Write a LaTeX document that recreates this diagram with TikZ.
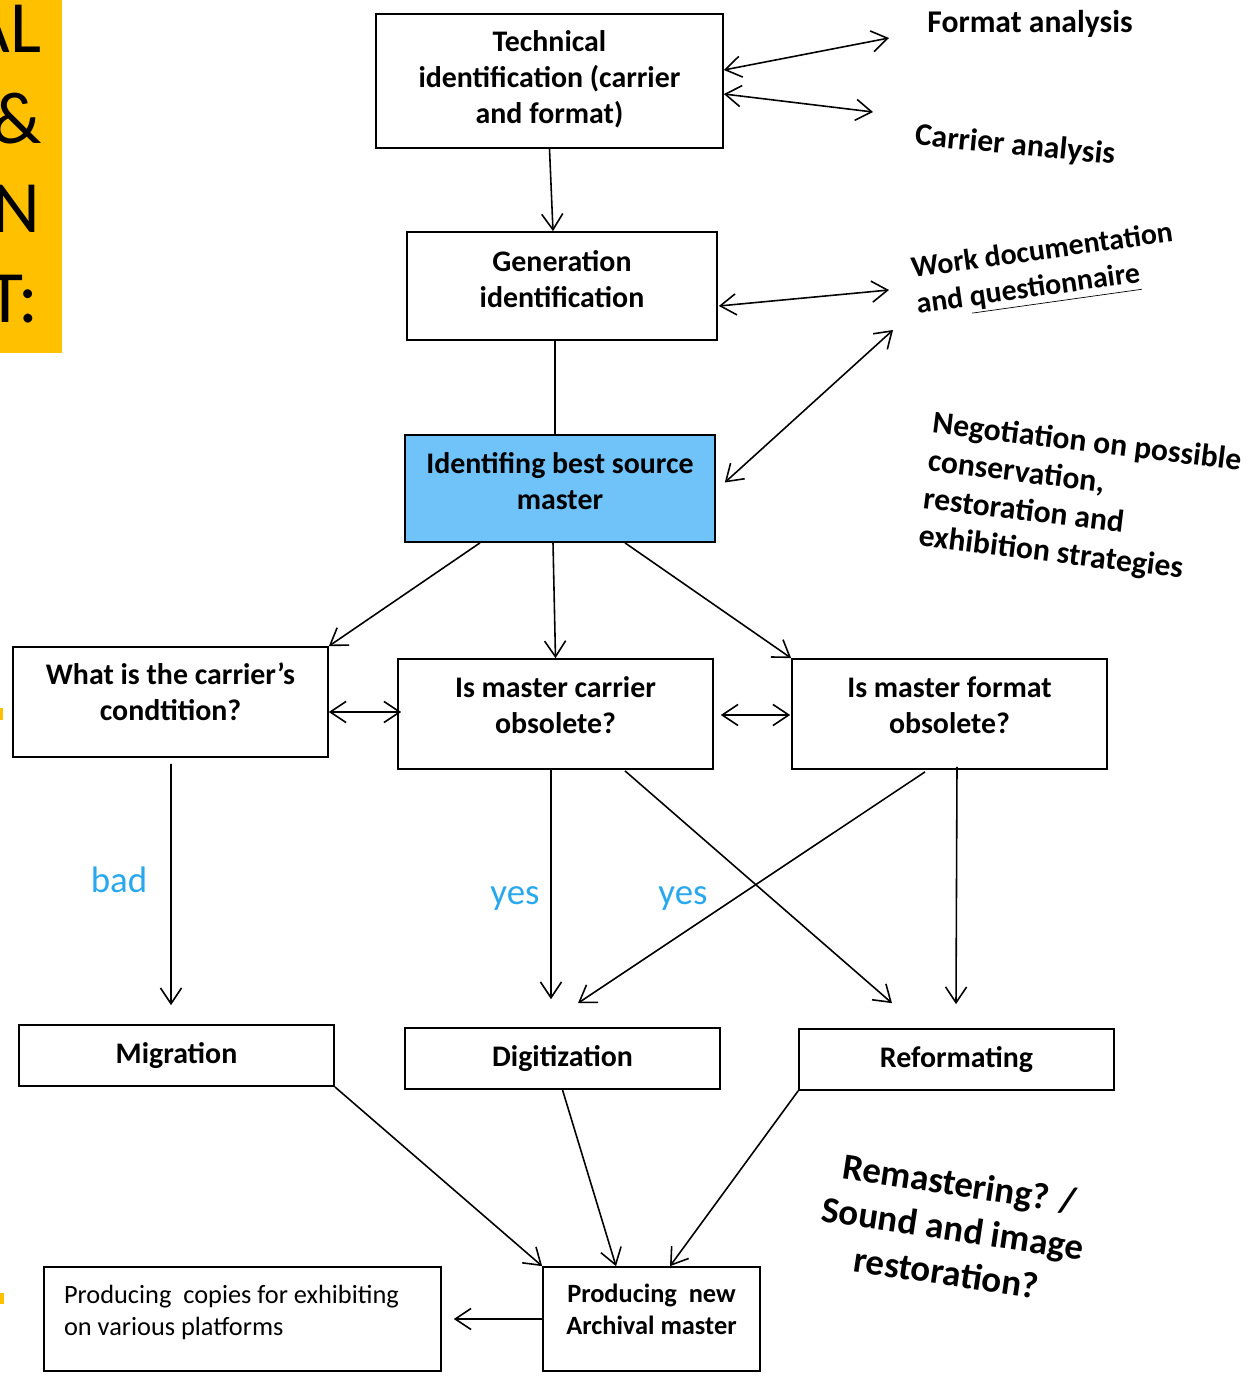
\documentclass[tikz,border=0pt]{standalone}
\usepackage{fontspec}
\setmainfont{Carlito}
\usetikzlibrary{arrows.meta,calc}
\definecolor{masterblue}{RGB}{111,195,248}
\definecolor{answerblue}{RGB}{41,168,238}
\definecolor{bandyellow}{RGB}{255,192,0}
\begin{document}
\begin{tikzpicture}[x=0.02cm,y=-0.02cm,
  box/.style={draw,line width=1pt,inner sep=0pt,align=flush center,
    font=\fontsize{17}{20.5}\selectfont\bfseries},
  lift/.style={execute at end node={\endgraf\vskip#1\hrule height0pt depth0pt width0pt}},
  flow/.style={line width=0.9pt,-{Straight Barb[length=9pt,width=12pt]}},
  twoway/.style={line width=0.9pt,{Straight Barb[length=9pt,width=12pt]}-{Straight Barb[length=9pt,width=12pt]}},
  side/.style={font=\fontsize{18}{21.6}\selectfont\bfseries},
  answer/.style={text=answerblue,font=\fontsize{21}{25}\selectfont}]
\useasboundingbox (0,0) rectangle (1259,1376);
% left band (cut off)
\begin{scope}
\clip (0,0) rectangle (1259,1376);
\fill[bandyellow] (0,0) rectangle (62,353);
\fill[bandyellow] (0,708) rectangle (3,720);
\fill[bandyellow] (0,1293) rectangle (4,1304);
\node[anchor=base east,inner sep=0pt,font=\fontsize{42}{50}\selectfont] (band1) at (42,52) {AL};
\node[anchor=base east,inner sep=0pt,font=\fontsize{42}{50}\selectfont] (band2) at (42,143) {\&};
\node[anchor=base east,inner sep=0pt,font=\fontsize{42}{50}\selectfont] (band3) at (40,232) {N};
\node[anchor=base east,inner sep=0pt,font=\fontsize{42}{50}\selectfont] (band4) at (39,322) {T:};
\end{scope}

% boxes
\node[box,lift=2.3pt,text width=6.94cm,minimum height=2.68cm] (tech) at (549.5,81) {Technical\\identification (carrier\\and format)};
\node[box,lift=8pt,text width=6.2cm,minimum height=2.16cm] (gen) at (562,286) {Generation\\identification};
\node[box,lift=8.5pt,fill=masterblue,text width=6.2cm,minimum height=2.14cm] (best) at (560,488.5) {Identifing best source\\master};
\node[box,lift=11.4pt,text width=6.3cm,minimum height=2.2cm] (cond) at (170.5,702) {What is the carrier’s\\condtition?};
\node[box,lift=10.2pt,text width=6.3cm,minimum height=2.2cm] (mcarrier) at (555.5,714) {Is master carrier\\obsolete?};
\node[box,lift=10.2pt,text width=6.3cm,minimum height=2.2cm] (mformat) at (949.5,714) {Is master format\\obsolete?};
\node[box,text width=6.3cm,minimum height=1.22cm] (migration) at (176.5,1055.5) {Migration};
\node[box,text width=6.3cm,minimum height=1.22cm] (digit) at (562.5,1058.5) {Digitization};
\node[box,text width=6.3cm,minimum height=1.22cm] (reform) at (956.5,1059.5) {Reformating};
\node[box,lift=7.4pt,font=\fontsize{15}{18.2}\selectfont,align=flush left,text width=7.14cm,inner xsep=0.4cm,minimum height=2.08cm] (copies) at (242.5,1319) {Producing\ \ copies for exhibiting\\on various platforms};
\node[box,lift=11.4pt,font=\fontsize{15}{18.2}\selectfont\bfseries,text width=4.34cm,minimum height=2.08cm] (newmaster) at (651.5,1319) {Producing\ \ new\\Archival master};

% texts on the side
\node[side] (fmt) at (1030,24) {Format analysis};
\node[side,rotate=-5.5] (car) at (1015,146) {Carrier analysis};
\node[side,rotate=8,align=left,font=\fontsize{17}{20.5}\selectfont\bfseries] (work) at (1045,271) {Work documentation\\and \underline{questionnaire}};
\node[side,rotate=-7,align=left] (nego) at (1080,500) {Negotiation on possible\\conservation,\\restoration and\\exhibition strategies};
\node[side,rotate=-8.5,align=center,font=\fontsize{21}{25.6}\selectfont\bfseries] (remaster) at (953,1228) {Remastering? /\\Sound and image\\restoration?};
\node[answer] (bad) at (119,880) {bad};
\node[answer] (yes1) at (515,899) {yes};
\node[answer] (yes2) at (683,899) {yes};

% free ends
\coordinate (fmtend) at (889,38);
\coordinate (carend) at (873,112);
\coordinate (workend) at (889,290);
\coordinate (negoend) at (893,330);

% connectors
\draw[flow] (tech.south) -- ($(gen.north)+(-9,0)$);
\draw[line width=0.9pt] ($(gen.south)+(-7,0)$) -- ($(best.north)+(-5,0)$);
\draw[twoway] ($(tech.east)+(0,-11)$) -- (fmtend);
\draw[twoway] ($(tech.east)+(0,13)$) -- (carend);
\draw[twoway] ($(gen.east)+(1,20)$) -- (workend);
\draw[twoway] ($(best.east)+(9,-6)$) -- (negoend);
\draw[flow] ($(best.south)+(-80,0)$) -- (cond.north east);
\draw[flow] ($(best.south)+(-7,0)$) -- (mcarrier.north);
\draw[flow] ($(best.south)+(65,0)$) -- (mformat.north west);
\draw[twoway] ($(cond.east)+(0,10)$) -- ($(mcarrier.west)+(4,-2)$);
\draw[twoway] ($(mcarrier.east)+(7,1)$) -- ($(mformat.west)+(-1,1)$);
\draw[flow] ($(cond.south)+(0.5,6)$) -- ($(migration.north)+(-5.5,-19)$);
\draw[flow] ($(mcarrier.south)+(-4.5,-2)$) -- ($(digit.north)+(-11.5,-28)$);
\draw[flow] ($(mcarrier.south)+(69.5,1)$) -- ($(reform.north)+(-64.5,-25)$);
\draw[flow] ($(mformat.south)+(-24.5,2)$) -- ($(digit.north)+(15.5,-24)$);
\draw[flow] ($(mformat.south)+(7.5,-3)$) -- ($(reform.north)+(-0.5,-24)$);
\draw[flow] (migration.south east) -- (newmaster.north west);
\draw[flow] (digit.south) -- ($(newmaster.north)+(-35.5,0)$);
\draw[flow] (reform.south west) -- ($(newmaster.north)+(18.5,0)$);
\draw[flow] (newmaster.west) -- ($(copies.east)+(12,0)$);
\end{tikzpicture}
\end{document}
